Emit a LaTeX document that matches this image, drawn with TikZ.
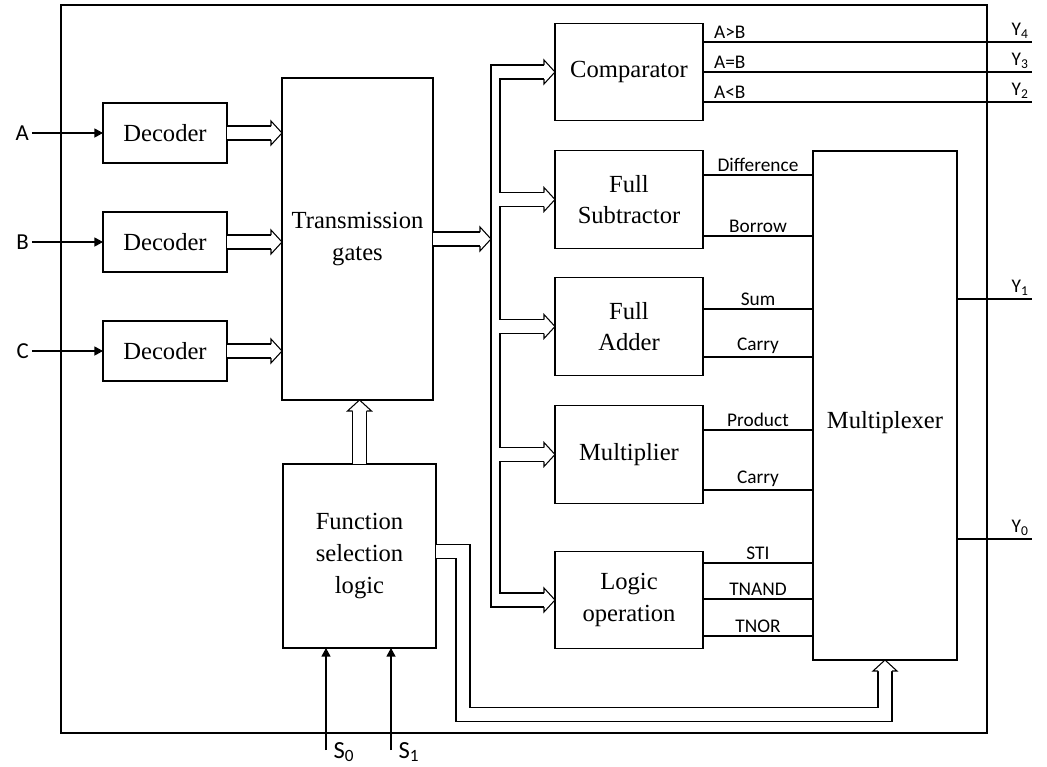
\documentclass[tikz,border=0pt]{standalone}
\usepackage{fontspec}
\setmainfont{Liberation Serif}
\newfontfamily\sigfont{Carlito}
\usetikzlibrary{arrows.meta,calc}

\tikzset{
  blk/.style={draw, outer sep=0pt, align=center, font=\fontsize{14}{18}\selectfont},
  decbox/.style={blk, minimum width=24.8mm, minimum height=12mm},
  fnbox/.style={blk, minimum width=29.6mm, minimum height=19.5mm},
  sig/.style={font=\sigfont\fontsize{11}{13}\selectfont, inner sep=1.5pt},
  insig/.style={sig, font=\sigfont\fontsize{13}{15}\selectfont},
  bus/.style={double, double distance=2.59mm},
  sarrow/.style={-{Triangle[length=1.7mm,width=1.8mm]}},
  bushead/.pic={\draw[fill=white] (-11,7) -- (-11,12) -- (0,0) -- (-11,-12) -- (-11,-7);}
}

\begin{document}
\begin{tikzpicture}[x=0.2mm, y=-0.2mm, line width=0.6pt]
\useasboundingbox (0,0) rectangle (1047,767);

% Outer frame
\draw (61,5) rectangle (987,733);

% Decoders, gates, selection
\node[decbox] (decA) at (165,133) {Decoder};
\node[decbox] (decB) at (165,242) {Decoder};
\node[decbox] (decC) at (165,351) {Decoder};
\node[blk, minimum width=30.2mm, minimum height=64.4mm] (tg) at (357.5,239) {Transmission\\gates};
\node[blk, minimum width=30.6mm, minimum height=36.8mm] (fsl) at (359.5,556) {Function\\selection\\logic};

% Function blocks
\node[fnbox] (cmp) at (629,72) {Comparator};
\node[fnbox] (fs) at (629,199.5) {Full\\Subtractor};
\node[fnbox] (fa) at (629,326.5) {Full\\Adder};
\node[fnbox] (mul) at (629,454.5) {Multiplier};
\node[fnbox] (log) at (629,600) {Logic\\operation};
\node[blk, minimum width=28.8mm, minimum height=101.8mm] (mux) at (885,405.5) {};
\node[blk, draw=none] (muxlbl) at (885,423) {Multiplexer};

% Inputs A, B, C
\foreach \n/\d in {A/decA, B/decB, C/decC} {
  \node[insig, anchor=east] (in\n) at ($(\d.west)+(-71,0)$) {\n};
  \draw[sarrow] (in\n.east) -- (\d.west);
  \draw[bus, shorten >=2.2mm] (\d.east) -- (tg.west |- \d.east);
  \pic at (tg.west |- \d.east) {bushead};
}

% Bus to function blocks
\coordinate (busO) at (491,239);
\coordinate (busI) at (500,239);
\draw[bus, shorten >=2.2mm] (tg.east) -- (busO);
\pic at (busO) {bushead};
\draw ($(cmp.west)+(-11,-7)$) -| ($(busO |- log.west)+(0,7)$) -- ($(log.west)+(-11,7)$);
\foreach \a/\b in {cmp/fs, fs/fa, fa/mul, mul/log}
  \draw ($(\a.west)+(-11,7)$) -| ($(busI |- \b.west)+(0,-7)$) -- ($(\b.west)+(-11,-7)$);
\foreach \b in {cmp, fs, fa, mul, log}
  \pic at (\b.west) {bushead};

% Comparator outputs
\foreach \dy/\t/\k in {-30/A>B/4, 0/A=B/3, 30/A<B/2}
  \draw ($(cmp.east)+(0,\dy)$) -- ($(cmp.east)+(329,\dy)$)
    node[sig, pos=0, anchor=south west, xshift=1.6mm] {\t}
    node[sig, pos=1, anchor=south east] {Y\textsubscript{\k}};

% Multiplexer inputs
\foreach \b/\dy/\t in {fs/-24.5/Difference, fs/36.5/Borrow, fa/-17.5/Sum, fa/30.5/Carry,
    mul/-24.5/Product, mul/35.5/Carry, log/-37/STI, log/-1/TNAND, log/36/TNOR}
  \draw ($(\b.east)+(0,\dy)$) -- ($(mux.west |- \b.east)+(0,\dy)$)
    node[sig, midway, above] {\t};

% Multiplexer outputs
\draw ($(mux.east)+(0,-106.5)$) -- ++(75,0) node[sig, pos=1, anchor=south east] {Y\textsubscript{1}};
\draw ($(mux.east)+(0,133.5)$) -- ++(75,0) node[sig, pos=1, anchor=south east] {Y\textsubscript{0}};

% Selection paths
\draw[bus, shorten >=2.2mm] (fsl.north) -- (fsl.north |- tg.south);
\pic[rotate=90] at (fsl.north |- tg.south) {bushead};
\draw[bus, shorten >=2.2mm] ($(fsl.east)+(0,-4.5)$) -- ++(27,0) |- ($(mux.south)+(0,54.5)$) -- (mux.south);
\pic[rotate=90] at (mux.south) {bushead};

% Select inputs
\coordinate (s0) at (326,750);
\coordinate (s1) at (391,750);
\draw[sarrow] (s0) -- (s0 |- fsl.south);
\draw[sarrow] (s1) -- (s1 |- fsl.south);
\node[insig, font=\sigfont\fontsize{14}{16}\selectfont] (lblS0) at (344,752) {S\textsubscript{0}};
\node[insig, font=\sigfont\fontsize{14}{16}\selectfont] (lblS1) at (409,752) {S\textsubscript{1}};

\end{tikzpicture}
\end{document}
